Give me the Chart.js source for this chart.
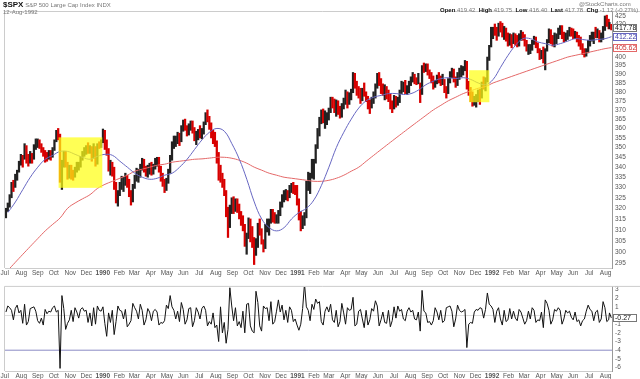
<!DOCTYPE html>
<html>
<head>
<meta charset="utf-8">
<script src="https://cdn.jsdelivr.net/npm/chart.js@4.4.1/dist/chart.umd.min.js"></script>
<style>
  body { margin:0; background:#fff; width:640px; height:379px; overflow:hidden; position:relative; font-family:"Liberation Sans", Arial, sans-serif; }
  #priceChart { position:absolute; left:0; top:0; }
  #chgChart { position:absolute; left:0; top:280px; }
  .t { position:absolute; white-space:nowrap; font-size:6px; color:#777; line-height:1; }
  .t b { color:#111; }
</style>
</head>
<body>
<canvas id="priceChart" width="640" height="280"></canvas>
<canvas id="chgChart" width="640" height="99"></canvas>
<div class="t" style="left:3px;top:1px"><b style="font-size:8px">$SPX</b> S&amp;P 500 Large Cap Index INDX</div>
<div class="t" style="left:3px;top:9px">12-Aug-1992</div>
<div class="t" style="left:579px;top:1px">@StockCharts.com</div>
<div class="t" style="left:440px;top:7px"><b>Open</b> 419.42 &nbsp;<b>High</b> 419.75 &nbsp;<b>Low</b> 416.40 &nbsp;<b>Last</b> 417.78 &nbsp;<b>Chg</b> -1.12 (-0.27%) <span style="color:#d00">&#9660;</span></div>
<script>
// week endings; every week holds two half-week bars
const weeks = [
  '1989-07-07','1989-07-14','1989-07-21','1989-07-28',
  '1989-08-04','1989-08-11','1989-08-18','1989-08-25',
  '1989-09-01','1989-09-08','1989-09-15','1989-09-22','1989-09-29',
  '1989-10-06','1989-10-13','1989-10-20','1989-10-27',
  '1989-11-03','1989-11-10','1989-11-17','1989-11-24',
  '1989-12-01','1989-12-08','1989-12-15','1989-12-22','1989-12-29',
  '1990-01-05','1990-01-12','1990-01-19','1990-01-26',
  '1990-02-02','1990-02-09','1990-02-16','1990-02-23',
  '1990-03-02','1990-03-09','1990-03-16','1990-03-23','1990-03-30',
  '1990-04-06','1990-04-13','1990-04-20','1990-04-27',
  '1990-05-04','1990-05-11','1990-05-18','1990-05-25',
  '1990-06-01','1990-06-08','1990-06-15','1990-06-22','1990-06-29',
  '1990-07-06','1990-07-13','1990-07-20','1990-07-27',
  '1990-08-03','1990-08-10','1990-08-17','1990-08-24','1990-08-31',
  '1990-09-07','1990-09-14','1990-09-21','1990-09-28',
  '1990-10-05','1990-10-12','1990-10-19','1990-10-26',
  '1990-11-02','1990-11-09','1990-11-16','1990-11-23','1990-11-30',
  '1990-12-07','1990-12-14','1990-12-21','1990-12-28',
  '1991-01-04','1991-01-11','1991-01-18','1991-01-25',
  '1991-02-01','1991-02-08','1991-02-15','1991-02-22',
  '1991-03-01','1991-03-08','1991-03-15','1991-03-22','1991-03-29',
  '1991-04-05','1991-04-12','1991-04-19','1991-04-26',
  '1991-05-03','1991-05-10','1991-05-17','1991-05-24','1991-05-31',
  '1991-06-07','1991-06-14','1991-06-21','1991-06-28',
  '1991-07-05','1991-07-12','1991-07-19','1991-07-26',
  '1991-08-02','1991-08-09','1991-08-16','1991-08-23','1991-08-30',
  '1991-09-06','1991-09-13','1991-09-20','1991-09-27',
  '1991-10-04','1991-10-11','1991-10-18','1991-10-25',
  '1991-11-01','1991-11-08','1991-11-15','1991-11-22','1991-11-29',
  '1991-12-06','1991-12-13','1991-12-20','1991-12-27',
  '1992-01-03','1992-01-10','1992-01-17','1992-01-24','1992-01-31',
  '1992-02-07','1992-02-14','1992-02-21','1992-02-28',
  '1992-03-06','1992-03-13','1992-03-20','1992-03-27',
  '1992-04-03','1992-04-10','1992-04-17','1992-04-24',
  '1992-05-01','1992-05-08','1992-05-15','1992-05-22','1992-05-29',
  '1992-06-05','1992-06-12','1992-06-19','1992-06-26',
  '1992-07-03','1992-07-10','1992-07-17','1992-07-24','1992-07-31',
  '1992-08-07','1992-08-12'
];
const halfHigh = [
  320.0,322.5, 326.5,332.5, 333.5,336.5, 338.5,343.0,
  346.5,346.0, 352.0,351.0, 346.5,348.0, 347.0,351.5,
  354.5,354.5, 354.0,352.0, 350.0,348.5, 347.5,348.5, 348.5,350.0,
  354.0,359.0, 360.0,357.0, 343.5,348.0, 348.0,342.5,
  341.0,341.0, 338.5,340.0, 342.5,342.5, 345.5,348.0,
  350.0,351.0, 352.5,351.0, 350.5,352.0, 350.5,352.0, 353.0,354.0,
  359.7,359.0, 354.0,349.5, 343.5,342.5, 340.0,332.5,
  328.5,332.5, 335.5,335.0, 337.0,336.0, 334.0,328.5,
  331.5,336.0, 339.5,339.0, 341.5,344.5, 344.0,340.5, 341.0,342.0,
  342.5,341.5, 344.5,345.0, 345.0,340.5, 337.0,334.0,
  334.5,339.0, 346.0,353.0, 356.0,356.0, 358.0,357.5,
  361.5,364.5, 365.0,361.5, 362.5,364.0, 364.0,360.5, 358.5,359.5,
  361.5,360.0, 363.5,368.5, 370.0,366.5, 363.0,359.0,
  358.0,353.5, 347.5,341.0, 337.0,334.0, 328.5,320.5, 321.5,325.0,
  325.5,324.5, 324.5,322.0, 318.5,316.5, 312.5,308.5,
  315.5,315.0, 311.5,306.5, 306.0,313.0, 315.0,310.5,
  305.5,312.5, 315.0,315.0, 319.5,319.5, 318.0,317.0, 319.0,323.0,
  326.5,328.5, 329.0,328.5, 331.0,332.0, 332.5,331.0,
  331.0,324.5, 318.5,316.5, 318.0,333.0, 337.5,337.0,
  344.0,344.0, 351.5,360.0, 366.0,370.0, 370.5,369.5,
  368.5,371.0, 377.0,377.0, 376.0,375.5, 375.0,372.0, 373.5,376.5,
  381.0,380.0, 379.5,381.5, 391.0,390.5, 386.0,383.0,
  382.0,382.0, 385.0,380.0, 377.5,375.5, 377.0,380.0, 384.5,390.5,
  391.0,387.5, 384.5,384.0, 383.0,381.0, 379.0,375.0,
  378.0,377.5, 377.0,381.0, 386.0,385.5, 386.5,383.5,
  386.0,388.5, 391.0,390.0, 388.0,390.5, 385.0,395.0, 396.5,396.0,
  396.0,392.5, 391.0,389.0, 386.5,389.5, 391.0,389.0,
  390.0,387.0, 383.0,387.5, 391.5,393.5, 393.0,388.5,
  391.0,393.5, 395.0,394.5, 398.0,397.5, 386.0,382.5, 380.0,377.5,
  378.5,381.0, 381.5,385.5, 388.5,388.0, 400.0,407.0,
  418.0,418.0, 420.0,418.0, 420.5,421.5, 420.5,418.5, 417.5,414.5,
  414.0,413.5, 414.5,414.0, 413.0,414.0, 416.0,415.0,
  413.5,410.0, 407.5,407.5, 410.0,412.5, 412.0,408.5,
  405.0,404.0, 406.0,405.0, 410.5,417.0, 416.5,413.0,
  414.5,414.0, 417.5,419.0, 419.0,415.0, 414.5,416.0, 418.0,417.5,
  417.0,415.5, 415.0,413.0, 412.0,408.0, 405.0,405.0,
  410.0,413.0, 415.0,415.0, 418.0,417.0, 416.0,414.5, 418.5,425.0,
  425.5,423.0, 421.0,419.75
];
const halfLow = [
  315.5,318.5, 320.5,325.0, 328.0,330.0, 333.5,337.5,
  341.0,340.0, 344.0,342.0, 340.5,342.0, 342.0,344.0,
  349.0,350.0, 349.5,347.5, 345.5,342.5, 343.0,344.0, 343.5,345.0,
  348.5,353.0, 354.0,332.5, 329.0,340.0, 340.0,334.0,
  334.5,334.0, 333.5,335.0, 337.5,338.5, 340.0,343.5,
  345.5,346.5, 347.0,347.0, 343.0,344.5, 340.5,341.5, 349.5,350.0,
  352.5,349.0, 346.0,338.0, 336.0,335.5, 329.0,322.5,
  321.0,326.0, 329.0,328.0, 331.0,330.0, 325.5,321.5,
  323.0,329.5, 333.0,332.5, 335.0,338.5, 337.5,335.5, 335.0,336.5,
  336.0,336.5, 339.0,340.5, 337.5,333.0, 330.5,327.5,
  328.5,332.0, 337.0,343.5, 349.5,350.5, 352.0,351.0,
  353.0,358.5, 359.0,356.0, 356.5,359.0, 357.5,353.5, 351.5,354.0,
  355.0,354.5, 357.0,362.0, 363.5,359.5, 355.0,352.0,
  350.5,342.0, 333.5,332.5, 330.0,326.0, 316.0,306.5, 311.0,317.5,
  317.5,318.5, 318.0,315.0, 312.0,309.5, 302.5,299.0,
  306.0,304.5, 302.0,294.5, 298.5,302.0, 307.5,303.5,
  300.0,301.5, 309.0,307.5, 313.0,313.5, 313.0,313.0, 313.0,316.5,
  320.5,323.0, 324.0,323.5, 325.0,327.5, 327.0,326.5,
  321.5,314.5, 309.5,310.5, 312.0,315.5, 328.5,327.0,
  334.5,334.0, 342.0,349.5, 356.0,362.5, 363.0,360.0,
  362.0,364.5, 368.5,371.0, 368.5,366.5, 367.5,365.5, 366.0,370.5,
  373.0,371.0, 373.0,375.5, 379.5,382.0, 378.0,376.5,
  373.5,375.0, 377.5,374.5, 370.5,368.0, 371.0,373.5, 376.5,382.0,
  383.5,379.0, 378.0,375.5, 376.0,374.5, 370.5,368.5,
  370.5,371.5, 372.5,374.0, 379.0,380.0, 379.0,378.5,
  379.5,383.5, 385.5,384.5, 384.0,384.5, 374.0,378.5, 391.0,391.5,
  389.5,387.5, 385.0,381.5, 382.5,384.5, 385.0,383.5,
  384.0,379.5, 376.5,379.0, 385.0,388.0, 385.5,382.5,
  383.5,387.0, 388.5,389.5, 392.0,381.5, 378.0,374.5, 372.0,372.5,
  371.5,374.5, 373.0,376.5, 381.5,380.5, 385.5,398.0,
  406.0,411.0, 413.0,410.0, 412.5,415.0, 412.0,410.5, 409.5,406.5,
  407.0,405.5, 408.0,407.0, 406.0,406.5, 410.0,410.0,
  406.5,403.5, 401.5,402.0, 404.0,407.5, 405.5,402.5,
  398.5,399.0, 396.5,392.5, 403.5,408.5, 408.0,406.5,
  406.0,408.0, 411.0,413.5, 411.0,409.0, 409.5,410.5, 412.5,412.5,
  411.0,411.0, 409.0,406.5, 404.5,401.5, 400.0,400.5,
  402.5,406.5, 409.5,408.0, 411.5,411.5, 409.0,409.0, 410.5,416.0,
  418.5,417.0, 417.0,416.4
];
const halfClose = [
  319.5,321.6, 325.8,331.8, 330.2,335.9, 337.9,342.2,
  345.3,343.9, 350.5,344.7, 342.5,346.0, 344.5,350.5,
  352.0,353.7, 350.5,348.8, 346.5,345.1, 345.0,347.1, 345.8,349.2,
  353.5,358.8, 356.0,333.7, 341.5,347.2, 341.0,335.1,
  340.0,337.6, 335.5,339.1, 340.5,341.6, 344.5,347.6,
  348.5,350.6, 348.0,348.7, 345.5,350.1, 342.5,351.8, 351.5,353.4,
  358.8,352.2, 348.0,339.9, 340.5,339.2, 330.3,325.8,
  327.5,330.9, 333.0,333.6, 334.5,332.7, 327.0,324.2,
  330.5,335.5, 336.5,337.9, 339.5,343.0, 339.0,337.2, 338.5,339.9,
  338.0,340.1, 343.0,344.3, 339.5,335.1, 332.0,329.1,
  333.5,338.4, 344.5,352.0, 354.0,354.6, 356.0,354.6,
  360.5,363.2, 360.0,358.7, 361.0,362.9, 358.5,355.4, 356.0,358.0,
  356.5,358.4, 362.5,367.3, 365.0,361.6, 356.5,353.4,
  352.0,344.9, 336.5,335.5, 332.0,327.8, 318.5,311.5, 320.0,322.6,
  320.5,323.4, 320.0,316.8, 314.5,311.3, 304.5,306.1,
  313.5,311.5, 304.0,300.0, 303.5,312.5, 309.0,304.7,
  302.5,311.9, 313.5,313.7, 318.0,317.1, 314.5,315.1, 317.0,322.2,
  325.0,326.6, 327.5,326.8, 329.5,331.8, 328.5,328.3,
  323.0,315.4, 311.5,315.2, 316.5,332.2, 334.5,336.1,
  340.5,343.1, 350.5,359.4, 364.5,369.1, 365.5,365.7,
  366.5,370.5, 375.0,374.9, 370.0,373.5, 369.0,367.5, 372.5,375.2,
  379.0,375.4, 378.5,380.4, 389.5,384.2, 380.5,379.0,
  377.5,380.8, 378.0,375.7, 373.0,372.4, 375.0,377.5, 383.0,389.8,
  385.5,383.6, 380.0,382.3, 378.5,377.8, 372.0,371.2,
  377.0,374.1, 375.5,380.3, 384.0,384.2, 380.5,380.9,
  385.0,387.2, 389.5,387.1, 385.0,385.6, 379.5,394.2, 393.5,395.4,
  391.0,389.1, 386.5,383.6, 385.5,387.9, 386.0,385.9,
  386.0,381.3, 380.0,386.5, 390.5,392.5, 387.0,384.2,
  389.5,391.3, 392.0,393.7, 396.5,382.6, 380.5,376.1, 374.0,375.2,
  376.0,379.1, 377.5,384.5, 383.5,387.0, 399.0,406.5,
  417.0,417.3, 416.0,415.1, 419.5,418.9, 413.5,415.5, 411.5,408.8,
  412.0,411.5, 413.5,412.5, 407.5,411.4, 414.5,412.7,
  408.0,404.4, 405.0,405.8, 409.0,411.3, 406.5,403.5,
  401.0,401.6, 398.0,404.3, 409.5,416.0, 410.0,409.0,
  412.0,412.5, 416.0,418.5, 412.5,410.1, 413.0,414.0, 416.5,415.4,
  413.0,413.5, 410.5,409.8, 405.5,403.4, 402.0,403.5,
  408.5,411.8, 413.5,414.2, 413.0,415.6, 410.5,411.6, 417.5,424.2,
  422.0,418.9, 419.0,417.78
];
// moving averages, one value every second week
const ma50 = [
  318,323,329,335,340,344,346,348,348,346.5,345,344,345.5,
  346.5,346,343,340,337,335,334,334.5,336,337,340,344,349,354,358,360,358.5,352,344,334,323,315,311,309.5,311,315,
  318,320,324,331,340,350,358,365,371,375,377,378,379,379,378.5,379,381,384,386,387.5,388,387.5,388,387,385,384,
  387,394,401,407,411,411,409,408,407,408,409.5,411,410.5,410,410.5,411,412.22
];
const ma200 = [
  292,295.5,299,302.5,306,309.5,312.5,315.5,320,322.5,324.5,326.5,329.5,
  331.5,333,334.5,336,338,339,340,341,341.5,342.5,343,343.5,344,344.2,344.6,345,345,344.5,343.5,342,340,338.5,337,336,335,334.5,
  334,333.5,333,333,333.5,334.5,336,338,340,343,346,349,352,355,358,361,364,367,370,372.5,375,377,379,380.5,382,383,
  385,386.5,388,389.5,391,392.5,394,395.5,397,398.5,400,401,402,403,404,405,405.62
];
// daily % change, two readings per week
const dailyChg = [
  0.4,1.1, 0.9,0.6, -0.5,0.8, 1.2,0.3,
  0.6,-0.9, 1.3,-1.1, -0.7,0.8, 0.9,1.0,
  0.5,-0.6, -0.9,-0.3, -1.1,0.7, 0.2,0.5, 0.4,0.9,
  1.1,0.4, 0.6,-6.1, 2.3,0.8, -1.6,-0.9,
  -0.5,0.6, -0.7,0.9, 0.4,-0.3, 0.7,0.9,
  0.5,0.6, -0.8,0.3, -1.2,0.9, -1.0,1.1, 0.6,0.5,
  1.0,-0.9, -2.4,0.3, -0.8,0.6, -2.2,-0.7,
  1.1,0.6, 0.5,-0.4, 0.7,-1.3, -1.0,-0.6,
  1.4,0.9, 0.5,-0.4, 1.3,0.6, -1.1,-0.5, 0.8,0.4,
  -0.6,0.5, 0.7,0.4, -1.1,-0.8, -0.9,-0.6,
  1.2,0.8, 2.3,1.0, 0.6,-0.4, 0.5,-0.7,
  1.5,0.7, -1.0,-0.5, 0.8,0.9, -1.3,-0.6, 0.9,0.4,
  -0.4,0.8, 1.1,0.6, -1.2,-0.7, -1.0,0.3,
  -1.4,-1.1, -3.0,1.0, -2.0,-0.8, -3.2,-1.6, 3.2,1.1,
  -0.6,0.9, -1.2,-0.7, -1.4,0.5, -2.0,1.3,
  1.4,-1.2, -1.8,-2.0, 2.8,1.5, -1.2,-1.8,
  1.1,0.8, 0.9,-0.6, 1.6,-1.0, -0.7,0.5, 1.8,0.4,
  1.2,-0.5, 0.6,-0.8, 1.0,0.6, -0.7,-0.4,
  -1.1,-1.7, -1.0,0.8, 3.7,1.0, 0.6,-0.6,
  1.3,0.7, 1.9,1.4, 1.6,-0.7, -1.1,0.5,
  1.0,0.4, 1.3,-0.5, -0.8,0.6, -1.3,-0.7, 1.4,0.3,
  -1.0,0.9, 0.6,0.7, 2.1,-1.2, -1.0,0.5,
  0.7,-0.4, -1.4,0.6, -1.1,-0.5, 0.8,0.5, 1.7,1.1,
  -1.2,-0.5, 0.4,-0.8, -0.9,0.6, -1.3,-0.6,
  1.0,-0.3, 1.1,0.5, 0.7,-0.4, -0.6,0.5,
  0.9,0.4, 0.6,-0.4, -0.5,0.4, -1.8,2.9, 0.5,0.3,
  -0.8,-0.7, -1.1,-0.6, 0.9,0.4, -0.5,0.6,
  -0.8,-0.6, 0.9,1.0, 1.1,0.5, -1.3,-0.4,
  1.2,0.6, 0.4,0.5, 0.7,-3.7, -1.0,-0.8, -0.9,0.4,
  0.7,0.6, 0.9,0.8, -0.3,0.7, 2.6,1.3,
  1.1,0.7, -0.8,0.5, 0.9,-0.4, -1.1,0.6, -0.7,-0.5,
  0.8,-0.4, 0.5,-0.3, -0.6,0.7, 0.4,-0.3,
  -1.0,-0.6, 0.5,-0.4, 0.9,0.6, -0.8,-0.5,
  -0.6,0.4, -1.4,1.8, 1.4,0.6, -1.0,-0.5,
  0.7,0.5, 0.9,0.6, -1.0,-0.4, 0.6,0.3, 0.5,-0.2,
  -0.5,0.4, -0.7,-0.5, -1.2,-0.6, -0.4,0.5,
  1.2,0.7, 0.5,-0.6, 0.4,0.6, -0.8,-0.4, 1.6,0.9,
  -0.7,-0.5, 0.3,-0.27
];
// yellow highlight boxes
const boxStart = ['1989-10-10','1991-11-19'];
const boxEnd = ['1989-12-31','1991-12-27'];
const boxTop = [355.3, 392.3];
const boxBottom = [329.8, 374.2];

const monthStarts = [
  '1989-07-01','1989-08-01','1989-09-01','1989-10-01','1989-11-01','1989-12-01',
  '1990-01-01','1990-02-01','1990-03-01','1990-04-01','1990-05-01','1990-06-01',
  '1990-07-01','1990-08-01','1990-09-01','1990-10-01','1990-11-01','1990-12-01',
  '1991-01-01','1991-02-01','1991-03-01','1991-04-01','1991-05-01','1991-06-01',
  '1991-07-01','1991-08-01','1991-09-01','1991-10-01','1991-11-01','1991-12-01',
  '1992-01-01','1992-02-01','1992-03-01','1992-04-01','1992-05-01','1992-06-01',
  '1992-07-01','1992-08-01'
];
const monthLabels = [
  'Jul','Aug','Sep','Oct','Nov','Dec',
  '1990','Feb','Mar','Apr','May','Jun','Jul','Aug','Sep','Oct','Nov','Dec',
  '1991','Feb','Mar','Apr','May','Jun','Jul','Aug','Sep','Oct','Nov','Dec',
  '1992','Feb','Mar','Apr','May','Jun','Jul','Aug'
];
const priceTicks = [295,300,305,310,315,320,325,330,335,340,345,350,355,360,365,370,375,380,385,390,395,400,420,425];
const chgTicks = [3,2,1,-1,-2,-3,-4,-5,-6];
const chgLines = [0, -4];

const base = Date.UTC(1989, 6, 1);
const toDay = s => (Date.parse(s) - base) / 86400000;
const halfX = i => toDay(weeks[Math.floor(i / 2)]) - (i % 2 ? 0.25 : 3.75);
const xMin = 0.5, xMax = toDay('1992-08-13');
const FONT = '"Liberation Sans", Arial, sans-serif';
Chart.defaults.font.family = FONT;

const xAxis = (h) => ({
  type: 'linear', min: xMin, max: xMax, offset: false,
  afterBuildTicks: s => { s.ticks = monthStarts.map(d => ({ value: toDay(d) })); },
  afterFit: s => { s.height = h; s.paddingLeft = 0; s.paddingRight = 0; },
  ticks: {
    autoSkip: false, maxRotation: 0, padding: 1, color: '#555',
    font: ctx => ({ size: 6.5, family: FONT, weight: /^\d{4}$/.test(monthLabels[ctx.index]) ? 'bold' : 'normal' }),
    callback: (v, i) => monthLabels[i]
  },
  grid: { display: false, drawTicks: false, offset: false },
  border: { color: '#ccc' }
});

const tagPlugin = (tags) => ({
  id: 'tags',
  afterDraw(chart) {
    const c = chart.ctx, y = chart.scales.y, area = chart.chartArea;
    c.save();
    c.font = '7px ' + FONT;
    c.textBaseline = 'middle';
    c.strokeStyle = '#ccc'; c.lineWidth = 1;
    c.beginPath();
    c.moveTo(area.left - 0.5, area.bottom); c.lineTo(area.left - 0.5, area.top - 0.5); c.lineTo(640, area.top - 0.5);
    c.stroke();
    tags.forEach(t => {
      const py = Math.round(y.getPixelForValue(t.v));
      c.fillStyle = '#fff';
      c.fillRect(area.right + 1, py - 4, 24, 8);
      c.strokeStyle = t.border;
      c.strokeRect(area.right + 1.5, py - 3.5, 23, 7);
      c.fillStyle = t.color;
      c.fillText(t.v.toFixed(2), area.right + 3, py + 0.5);
    });
    c.restore();
  }
});

const boxPlugin = {
  id: 'boxes',
  afterDatasetsDraw(chart) {
    const c = chart.ctx, x = chart.scales.x, y = chart.scales.y;
    c.save();
    c.fillStyle = 'rgba(255,255,20,0.72)';
    boxStart.forEach((s, i) => {
      const x1 = x.getPixelForValue(toDay(s)), x2 = x.getPixelForValue(toDay(boxEnd[i]));
      const y1 = y.getPixelForValue(boxTop[i]), y2 = y.getPixelForValue(boxBottom[i]);
      c.fillRect(x1, y1, x2 - x1, y2 - y1);
    });
    c.restore();
  }
};

new Chart(document.getElementById('priceChart'), {
  type: 'bar',
  data: {
    datasets: [
      {
        type: 'bar',
        data: halfClose.map((c, i) => ({ x: halfX(i), y: [halfLow[i], halfHigh[i]] })),
        backgroundColor: halfClose.map((c, i) => (i > 0 && c < halfClose[i - 1]) ? '#d80000' : '#222'),
        barThickness: 1.6, order: 3
      },
      {
        type: 'line',
        data: ma50.map((v, i) => ({ x: toDay(weeks[i * 2]), y: v })),
        borderColor: '#6767c2', borderWidth: 1, pointRadius: 0, tension: 0.4, order: 1
      },
      {
        type: 'line',
        data: ma200.map((v, i) => ({ x: toDay(weeks[i * 2]), y: v })),
        borderColor: '#e46868', borderWidth: 1, pointRadius: 0, tension: 0.4, order: 2
      }
    ]
  },
  options: {
    responsive: false, animation: false, devicePixelRatio: 1,
    layout: { padding: { left: 5, top: 12, right: 0, bottom: 0 } },
    plugins: { legend: { display: false }, tooltip: { enabled: false } },
    scales: {
      x: xAxis(12),
      y: {
        type: 'logarithmic', position: 'right', min: 293, max: 427.5,
        afterBuildTicks: s => { s.ticks = priceTicks.map(v => ({ value: v })); },
        afterFit: s => { s.width = 28; },
        ticks: { autoSkip: false, padding: 3, color: '#555', font: { size: 6.5 }, callback: v => String(v) },
        grid: { display: false, drawTicks: false },
        border: { display: true, color: '#999', dash: [1, 2] }
      }
    }
  },
  plugins: [boxPlugin, tagPlugin([
    { v: halfClose[halfClose.length - 1], border: '#777', color: '#111' },
    { v: ma50[ma50.length - 1], border: '#6767c2', color: '#4444aa' },
    { v: ma200[ma200.length - 1], border: '#e46868', color: '#cc3333' }
  ])]
});

new Chart(document.getElementById('chgChart'), {
  type: 'line',
  data: {
    datasets: [
      {
        data: dailyChg.map((v, i) => ({ x: halfX(i), y: v })),
        borderColor: '#111', borderWidth: 1, pointRadius: 0, tension: 0
      },
      ...chgLines.map(l => ({
        data: [{ x: xMin, y: l }, { x: xMax, y: l }],
        borderColor: l === 0 ? '#ddd' : '#8a8ac4', borderWidth: 1, pointRadius: 0, order: 5
      }))
    ]
  },
  options: {
    responsive: false, animation: false, devicePixelRatio: 1,
    layout: { padding: { left: 5, top: 2, right: 0, bottom: 0 } },
    plugins: { legend: { display: false }, tooltip: { enabled: false } },
    scales: {
      x: xAxis(8),
      y: {
        type: 'linear', position: 'right', min: -6.4, max: 3.3,
        afterBuildTicks: s => { s.ticks = chgTicks.map(v => ({ value: v })); },
        afterFit: s => { s.width = 28; },
        ticks: { autoSkip: false, padding: 3, color: '#555', font: { size: 6.5 }, callback: v => String(v) },
        grid: { display: false, drawTicks: false },
        border: { display: true, color: '#999', dash: [1, 2] }
      }
    }
  },
  plugins: [tagPlugin([{ v: dailyChg[dailyChg.length - 1], border: '#777', color: '#111' }])]
});
</script>
</body>
</html>
